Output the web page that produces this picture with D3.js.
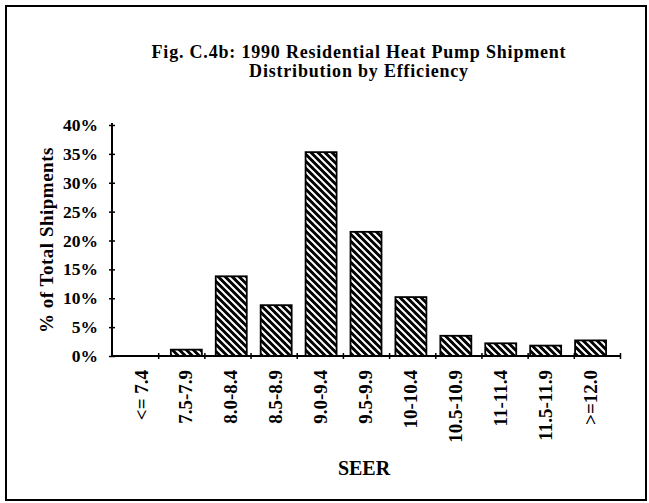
<!DOCTYPE html>
<html>
<head>
<meta charset="utf-8">
<script src="https://cdn.jsdelivr.net/npm/d3@7"></script>
<style>
  body { margin: 0; background: #fff; }
  svg { display: block; }
  text { font-family: 'Liberation Serif', 'Times New Roman', serif; font-weight: bold; fill: #000; }
</style>
</head>
<body>
<svg id="chart" width="649" height="503"></svg>
<script>
let categories = ['<= 7.4', '7.5-7.9', '8.0-8.4', '8.5-8.9', '9.0-9.4', '9.5-9.9',
  '10-10.4', '10.5-10.9', '11-11.4', '11.5-11.9', '>=12.0']
let shipments = [0, 1.1, 13.8, 8.8, 35.3, 21.5, 10.2, 3.5, 2.2, 1.8, 2.7]
let yTicks = [0, 5, 10, 15, 20, 25, 30, 35, 40]
let titleLines = ['Fig. C.4b: 1990 Residential Heat Pump Shipment', 'Distribution by Efficiency']

let margin = {top: 125, right: 29, bottom: 147, left: 112}
let width = 649 - margin.left - margin.right
let height = 503 - margin.top - margin.bottom

let svg = d3.select('#chart')

// hatch pattern, dark stripes running top-left to bottom-right
let pattern = svg.append('defs').append('pattern')
    .attr('id', 'hatch')
    .attr('patternUnits', 'userSpaceOnUse')
    .attr('width', 7)
    .attr('height', 7)
pattern.append('rect')
    .attr('width', 7)
    .attr('height', 7)
    .attr('fill', '#000')
pattern.append('path')
    .attr('d', 'M-1,-1L8,8M-1,6L1,8M6,-1L8,1')
    .attr('stroke', '#fff')
    .attr('stroke-width', 2)

// outer frame
svg.append('rect')
    .attr('x', 6)
    .attr('y', 6)
    .attr('width', 640)
    .attr('height', 494)
    .attr('fill', 'none')
    .attr('stroke', '#000')
    .attr('stroke-width', 2)

svg.append('text')
    .attr('x', 359)
    .attr('y', 58)
    .attr('text-anchor', 'middle')
    .style('font-size', '18px')
    .style('letter-spacing', '0.8px')
  .selectAll('tspan')
    .data(titleLines)
  .enter().append('tspan')
    .attr('x', 359)
    .attr('dy', function(d, i) { return i === 0 ? 0 : 19 })
    .text(function(d) { return d })

let g = svg.append('g')
    .attr('transform', 'translate(' + margin.left + ',' + margin.top + ')')

let x = d3.scaleBand()
    .range([0, width])
    .domain(categories)
    .padding(0.31)

let xEdges = d3.scaleLinear()
    .range([0, width])
    .domain([0, categories.length])

let y = d3.scaleLinear()
    .range([height, 0])
    .domain([0, 40])

g.append('g')
    .selectAll('.bar')
    .data(categories)
  .enter().append('rect')
    .attr('class', 'bar')
    .attr('x', function(d) { return x(d) })
    .attr('y', function(d, i) { return y(shipments[i]) })
    .attr('width', x.bandwidth())
    .attr('height', function(d, i) { return height - y(shipments[i]) })
    .attr('fill', 'url(#hatch)')
    .attr('stroke', '#000')
    .attr('stroke-width', 1.8)

let yAxis = g.append('g')
    .attr('class', 'y axis')
    .call(d3.axisLeft(y).tickValues(yTicks).tickFormat(function(d) { return d + '%' }).tickSize(3).tickPadding(11))

yAxis.select('.domain')
    .attr('d', 'M0,' + height + 'V-2')
    .attr('stroke-width', 2)

yAxis.selectAll('.tick line')
    .attr('x1', -3)
    .attr('x2', 3)
    .attr('stroke-width', 1.5)

yAxis.selectAll('text')
    .style('font-size', '17.5px')
    .style('font-family', null)

let xAxis = g.append('g')
    .attr('class', 'x axis')
    .attr('transform', 'translate(0,' + height + ')')
    .call(d3.axisBottom(xEdges).tickValues(d3.range(1, categories.length + 1)).tickFormat('').tickSize(3))

xAxis.select('.domain')
    .attr('d', 'M0,0H' + width)
    .attr('stroke-width', 2)

xAxis.selectAll('.tick line')
    .attr('y1', -3)
    .attr('y2', 3)
    .attr('stroke-width', 1.5)

let xLabels = g.append('g')
    .attr('class', 'x labels')
    .attr('transform', 'translate(0,' + height + ')')
    .call(d3.axisBottom(x).tickSize(0).tickPadding(0))

xLabels.select('.domain').remove()

xLabels.selectAll('text')
    .attr('transform', 'rotate(-90)')
    .attr('x', -14)
    .attr('y', 0)
    .attr('dy', '0.32em')
    .style('text-anchor', 'end')
    .style('font-size', '19px')
    .style('font-family', null)

svg.append('text')
    .attr('transform', 'translate(53,240) rotate(-90)')
    .attr('text-anchor', 'middle')
    .style('font-size', '19px')
    .style('letter-spacing', '0.5px')
    .text('% of Total Shipments')

svg.append('text')
    .attr('x', 364)
    .attr('y', 475)
    .attr('text-anchor', 'middle')
    .style('font-size', '20px')
    .text('SEER')
</script>
</body>
</html>
